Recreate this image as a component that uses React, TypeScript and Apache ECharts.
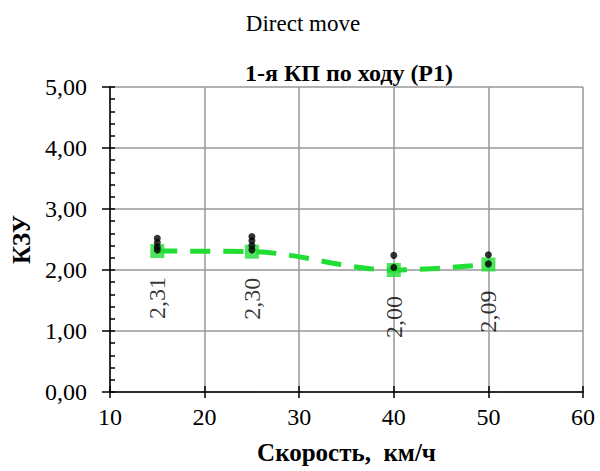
import React, { useEffect, useRef } from "react";
import * as echarts from "echarts";

const speeds = [15, 25, 40, 50];
const kzuMean = [2.31, 2.3, 2.0, 2.09];
const kzuLabels = ["2,31", "2,30", "2,00", "2,09"];
const dotSpeeds = [15, 15, 15, 15, 25, 25, 25, 25, 40, 40, 50, 50];
const dotValues = [2.52, 2.45, 2.38, 2.33, 2.55, 2.48, 2.4, 2.33, 2.24, 2.04, 2.25, 2.1];
const xTicks = [10, 20, 30, 40, 50, 60];
const yTicks = [0, 1, 2, 3, 4, 5];

const FONT = "Liberation Serif";
const GREEN = "#22dd33";

export default function App() {
  const ref = useRef<HTMLDivElement>(null);
  useEffect(() => {
    const chart = echarts.init(ref.current!, null, { renderer: "svg" });
    const fmtY = (v: number) => v.toFixed(2).replace(".", ",");
    chart.setOption({
      animation: false,
      backgroundColor: "#fff",
      title: [
        {
          text: "Direct move",
          left: 298,
          textAlign: "center",
          top: 7,
          textStyle: { fontFamily: FONT, fontSize: 23, fontWeight: "normal", color: "#000" },
        },
        {
          text: "1-я КП по ходу (Р1)",
          left: 344,
          textAlign: "center",
          top: 56,
          textStyle: { fontFamily: FONT, fontSize: 24, fontWeight: "bold", color: "#000" },
        },
      ],
      grid: { left: 110, right: 17, top: 87, bottom: 79 },
      xAxis: [
        {
          type: "value",
          min: xTicks[0],
          max: xTicks[xTicks.length - 1],
          interval: 10,
          name: "Скорость,  км/ч",
          nameLocation: "middle",
          nameGap: 48,
          nameTextStyle: { fontFamily: FONT, fontSize: 25, fontWeight: "bold", color: "#000" },
          axisLine: { show: true, lineStyle: { color: "#000", width: 1.5 } },
          axisTick: { show: true, inside: false, length: 6, lineStyle: { color: "#000", width: 1.5 } },
          axisLabel: {
            margin: 13,
            fontFamily: FONT,
            fontSize: 24,
            color: "#000",
          },
          splitLine: { show: true, lineStyle: { color: "#999", width: 1.5 } },
        },
        {
          type: "value",
          min: xTicks[0],
          max: xTicks[xTicks.length - 1],
          interval: 10,
          position: "bottom",
          axisLine: { show: false },
          axisTick: { show: true, inside: true, length: 6, lineStyle: { color: "#000", width: 1.5 } },
          axisLabel: { show: false },
          splitLine: { show: false },
        },
      ],
      yAxis: [
        {
          type: "value",
          min: yTicks[0],
          max: yTicks[yTicks.length - 1],
          interval: 1,
          name: "КЗУ",
          nameLocation: "middle",
          nameGap: 76,
          nameTextStyle: { fontFamily: FONT, fontSize: 25, fontWeight: "bold", color: "#000" },
          axisLine: { show: true, lineStyle: { color: "#000", width: 1.5 } },
          axisTick: { show: true, inside: false, length: 8, lineStyle: { color: "#000", width: 1.5 } },
          axisLabel: {
            margin: 23,
            fontFamily: FONT,
            fontSize: 24,
            color: "#000",
            formatter: fmtY,
          },
          splitLine: { show: true, lineStyle: { color: "#999", width: 1.5 } },
        },
        {
          type: "value",
          min: yTicks[0],
          max: yTicks[yTicks.length - 1],
          interval: 1,
          position: "left",
          axisLine: { show: false },
          axisTick: { show: true, inside: true, length: 5, lineStyle: { color: "#000", width: 1.5 } },
          minorTick: { show: true, splitNumber: 5, length: 5, lineStyle: { color: "#000", width: 1.5 } },
          axisLabel: { show: false },
          splitLine: { show: false },
        },
      ],
      series: [
        {
          type: "line",
          smooth: 0.35,
          showSymbol: false,
          data: speeds.map((s, i) => [s, kzuMean[i]]),
          lineStyle: { color: GREEN, width: 5, type: [20, 13] },
          z: 2,
        },
        {
          type: "scatter",
          symbol: "rect",
          symbolSize: 14,
          data: speeds.map((s, i) => [s, kzuMean[i]]),
          itemStyle: { color: GREEN },
          label: {
            show: true,
            position: "bottom",
            distance: 19,
            rotate: 90,
            align: "right",
            verticalAlign: "middle",
            fontFamily: FONT,
            fontSize: 24,
            color: "#000",
            formatter: (p: any) => kzuLabels[p.dataIndex],
          },
          z: 3,
        },
        {
          type: "scatter",
          symbol: "circle",
          symbolSize: 7,
          data: dotSpeeds.map((s, i) => [s, dotValues[i]]),
          itemStyle: { color: "#000" },
          z: 4,
        },
      ],
    });
    return () => chart.dispose();
  }, []);
  return <div ref={ref} style={{ position: "absolute", left: 0, top: 0, width: 600, height: 471 }} />;
}
